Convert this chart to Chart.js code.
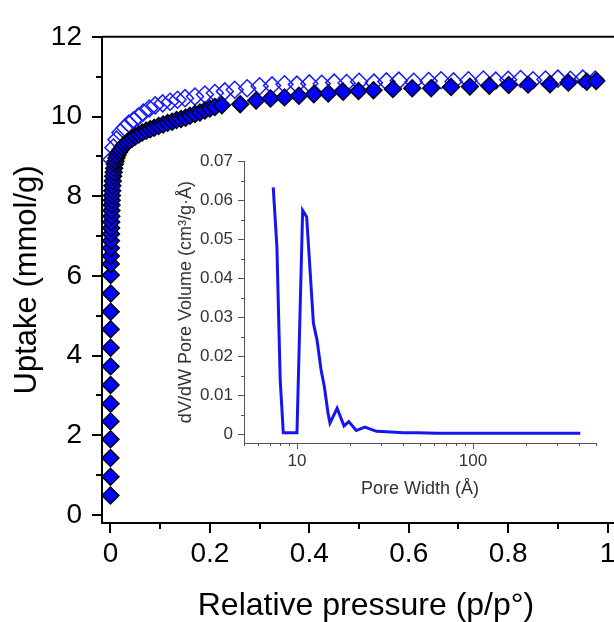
<!DOCTYPE html>
<html>
<head>
<meta charset="utf-8">
<script src="https://cdn.jsdelivr.net/npm/chart.js@4.4.1/dist/chart.umd.min.js"></script>
<style>
  html, body { margin: 0; padding: 0; background: #fff; overflow: hidden; }
  #wrap { position: relative; width: 614px; height: 622px; overflow: hidden; }
  #main { position: absolute; left: 0; top: 0; }
  #inset { position: absolute; left: 170px; top: 140px; }
</style>
</head>
<body>
<div id="wrap">
  <canvas id="main" width="640" height="622"></canvas>
  <canvas id="inset" width="444" height="365"></canvas>
</div>
<script>
// adsorption branch (filled diamonds)
const adsP = [0.00002, 0.00004, 0.00006, 0.00009, 0.00012, 0.00016, 0.0002, 0.00025, 0.0003, 0.00036, 0.00043, 0.0005, 0.0006,
  0.0007, 0.0008, 0.0009, 0.001, 0.0012, 0.0014, 0.0016, 0.0018, 0.002, 0.0023, 0.0026, 0.003, 0.0035, 0.004, 0.0047, 0.0055,
  0.0064, 0.0075, 0.0088, 0.0102, 0.012, 0.014, 0.017, 0.02, 0.024, 0.028, 0.033, 0.038, 0.044, 0.05, 0.057, 0.064, 0.072,
  0.08, 0.088, 0.097, 0.106, 0.115, 0.124, 0.133, 0.142, 0.151, 0.16, 0.17, 0.18, 0.19, 0.2, 0.21, 0.224,
  0.261, 0.293, 0.322, 0.350, 0.379, 0.409, 0.438, 0.468, 0.499, 0.529, 0.568, 0.607, 0.645, 0.685, 0.723, 0.762, 0.801,
  0.840, 0.884, 0.921, 0.958, 0.977];
const adsQ = [0.49, 0.96, 1.43, 1.90, 2.35, 2.79, 3.26, 3.73, 4.20, 4.66, 5.10, 5.56, 6.02,
  6.3, 6.5, 6.7, 6.88, 7.05, 7.2, 7.35, 7.5, 7.64, 7.78, 7.9, 8.02, 8.14, 8.26, 8.38, 8.5,
  8.6, 8.7, 8.8, 8.88, 8.96, 9.03, 9.1, 9.16, 9.23, 9.29, 9.35, 9.4, 9.45, 9.5, 9.55, 9.6, 9.64,
  9.68, 9.72, 9.76, 9.8, 9.84, 9.87, 9.91, 9.94, 9.97, 10.02, 10.06, 10.1, 10.15, 10.2, 10.24, 10.28,
  10.31, 10.40, 10.45, 10.48, 10.52, 10.56, 10.58, 10.62, 10.64, 10.66, 10.69, 10.71, 10.71, 10.74, 10.75, 10.77, 10.79,
  10.80, 10.81, 10.85, 10.87, 10.89];

// desorption branch (open diamonds)
const desP = [0.975, 0.95, 0.925, 0.90, 0.875, 0.85, 0.825, 0.80, 0.775, 0.75, 0.72, 0.69, 0.665, 0.64, 0.61, 0.58,
  0.555, 0.53, 0.50, 0.475, 0.45, 0.425, 0.40, 0.375, 0.35, 0.325, 0.30, 0.275, 0.25, 0.23, 0.21, 0.19, 0.17, 0.15,
  0.135, 0.12, 0.105, 0.09, 0.078, 0.066, 0.056, 0.046, 0.037, 0.029, 0.02, 0.012, 0.006, 0.002];
const desQ = [10.93, 10.95, 10.92, 10.95, 10.93, 10.91, 10.94, 10.92, 10.90, 10.93, 10.91, 10.88, 10.91, 10.89, 10.87, 10.9,
  10.88, 10.85, 10.87, 10.84, 10.85, 10.82, 10.83, 10.80, 10.81, 10.78, 10.76, 10.71, 10.67, 10.63, 10.59, 10.55, 10.5, 10.46,
  10.42, 10.37, 10.33, 10.28, 10.2, 10.1, 10.0, 9.9, 9.82, 9.72, 9.6, 9.42, 9.22, 8.92];

// inset: pore size distribution
const poreWidth = [7.33, 7.69, 8.03, 8.36, 10.0, 10.77, 11.35, 12.4, 13.0, 13.7, 14.3, 15.0, 15.4, 16.9, 18.5, 19.7,
  21.7, 24.3, 28.3, 32.3, 40.2, 47.9, 62.3, 149.6, 407];
const poreVol = [0.0633, 0.048, 0.0139, 0.0003, 0.0003, 0.0574, 0.0557, 0.0284, 0.0241, 0.0165, 0.0122, 0.0054, 0.0028,
  0.0066, 0.0021, 0.0032, 0.0009, 0.0018, 0.0007, 0.0006, 0.0003, 0.0003, 0.0002, 0.0002, 0.0002];

const xTicks = [0, 0.2, 0.4, 0.6, 0.8, 1];
const xMinor = [0.1, 0.3, 0.5, 0.7, 0.9];
const yTicks = [0, 2, 4, 6, 8, 10, 12];
const yMinor = [1, 3, 5, 7, 9, 11];
const insetXTicks = [10, 100];
const insetXMinor = [5, 6, 7, 8, 9, 20, 30, 40, 50, 60, 70, 80, 90, 200, 300, 400, 500];
const insetYTicks = [0, 0.01, 0.02, 0.03, 0.04, 0.05, 0.06, 0.07];
const insetYMinor = [0.005, 0.015, 0.025, 0.035, 0.045, 0.055, 0.065];

const FONT = "'Liberation Sans', Arial, sans-serif";

// draws outward tick marks (major + minor) and optional top frame line
const tickMarks = {
  id: 'tickMarks',
  afterDraw(chart, args, opts) {
    const { ctx, chartArea } = chart;
    ctx.save();
    ctx.strokeStyle = opts.color;
    ctx.lineWidth = opts.width;
    ctx.beginPath();
    opts.marks.forEach(m => {
      const scale = chart.scales[m.axis];
      m.values.forEach(v => {
        if (scale.isHorizontal()) {
          const x = Math.round(scale.getPixelForValue(v)) + opts.shift;
          ctx.moveTo(x, chartArea.bottom);
          ctx.lineTo(x, chartArea.bottom + m.len);
        } else {
          const y = Math.round(scale.getPixelForValue(v)) + opts.shift;
          ctx.moveTo(chartArea.left, y);
          ctx.lineTo(chartArea.left - m.len, y);
        }
      });
    });
    if (opts.frameTop) {
      ctx.moveTo(chartArea.left, chartArea.top);
      ctx.lineTo(chartArea.right, chartArea.top);
    }
    ctx.stroke();
    ctx.restore();
  }
};

const fmt = v => String(+v.toFixed(3));

new Chart(document.getElementById('main').getContext('2d'), {
  type: 'scatter',
  data: {
    datasets: [{
      label: 'Adsorption',
      data: adsP.map((p, i) => ({ x: p, y: adsQ[i] })),
      pointStyle: 'rectRot',
      pointRadius: 8.5,
      backgroundColor: '#0000ff',
      borderColor: '#000000',
      borderWidth: 1.4,
      order: 0
    }, {
      label: 'Desorption',
      data: desP.map((p, i) => ({ x: p, y: desQ[i] })),
      pointStyle: 'rectRot',
      pointRadius: 8.5,
      backgroundColor: 'rgba(0,0,0,0)',
      borderColor: '#1a1aff',
      borderWidth: 1.5,
      order: 1
    }]
  },
  options: {
    responsive: false,
    animation: false,
    events: [],
    layout: { padding: { top: 30, right: 10, left: 0, bottom: 0 } },
    plugins: {
      legend: { display: false },
      tooltip: { enabled: false },
      tickMarks: {
        color: '#000', width: 2, shift: 0, frameTop: true,
        marks: [
          { axis: 'x', values: xTicks, len: 10 },
          { axis: 'x', values: xMinor, len: 6 },
          { axis: 'y', values: yTicks, len: 10 },
          { axis: 'y', values: yMinor, len: 6 }
        ]
      }
    },
    scales: {
      x: {
        type: 'linear',
        min: -0.017,
        max: 1.045,
        afterBuildTicks: s => { s.ticks = xTicks.map(v => ({ value: v })); },
        afterFit: s => { s.height = 99; },
        grid: { display: false, drawTicks: false },
        border: { display: true, color: '#000', width: 2 },
        ticks: { color: '#000', font: { family: FONT, size: 28 }, padding: 14, maxRotation: 0, callback: fmt },
        title: { display: true, text: 'Relative pressure (p/p°)', color: '#000',
          font: { family: FONT, size: 32, lineHeight: 1 }, padding: { top: 0, bottom: 0 } }
      },
      y: {
        type: 'linear',
        min: -0.2,
        max: 12,
        afterBuildTicks: s => { s.ticks = yTicks.map(v => ({ value: v })); },
        afterFit: s => { s.width = 102; },
        grid: { display: false, drawTicks: false },
        border: { display: true, color: '#000', width: 2 },
        ticks: { color: '#000', font: { family: FONT, size: 28 }, padding: 20, callback: fmt },
        title: { display: true, text: 'Uptake (mmol/g)', color: '#000',
          font: { family: FONT, size: 31, lineHeight: 1 }, padding: { top: 12, bottom: 0 } }
      }
    }
  },
  plugins: [tickMarks]
});

new Chart(document.getElementById('inset').getContext('2d'), {
  type: 'line',
  data: {
    datasets: [{
      label: 'PSD',
      data: poreWidth.map((w, i) => ({ x: w, y: poreVol[i] })),
      borderColor: '#1515f0',
      borderWidth: 3,
      pointRadius: 0,
      tension: 0,
      fill: false
    }]
  },
  options: {
    responsive: false,
    animation: false,
    events: [],
    layout: { padding: { top: 21, right: 18, left: 0, bottom: 0 } },
    plugins: {
      legend: { display: false },
      tooltip: { enabled: false },
      tickMarks: {
        color: '#555', width: 1, shift: 0.5, frameTop: false,
        marks: [
          { axis: 'x', values: insetXTicks, len: 6 },
          { axis: 'x', values: insetXMinor, len: 3 },
          { axis: 'y', values: insetYTicks, len: 6 },
          { axis: 'y', values: insetYMinor, len: 3 }
        ]
      }
    },
    scales: {
      x: {
        type: 'logarithmic',
        min: 5,
        max: 500,
        afterBuildTicks: s => { s.ticks = insetXTicks.map(v => ({ value: v })); },
        afterFit: s => { s.height = 62; },
        grid: { display: false, drawTicks: false },
        border: { display: true, color: '#555', width: 1 },
        ticks: { color: '#333', font: { family: FONT, size: 17 }, padding: 8, maxRotation: 0, callback: fmt },
        title: { display: true, text: 'Pore Width (Å)', color: '#333',
          font: { family: FONT, size: 18, lineHeight: 1 }, padding: { top: 0, bottom: 7 } }
      },
      y: {
        type: 'linear',
        min: -0.0023,
        max: 0.07,
        afterBuildTicks: s => { s.ticks = insetYTicks.map(v => ({ value: v })); },
        afterFit: s => { s.width = 74; },
        grid: { display: false, drawTicks: false },
        border: { display: true, color: '#555', width: 1 },
        ticks: { color: '#333', font: { family: FONT, size: 17 }, padding: 11, callback: fmt },
        title: { display: true, text: 'dV/dW Pore Volume (cm³/g·Å)', color: '#333',
          font: { family: FONT, size: 18, lineHeight: 1 }, padding: { top: 7, bottom: 0 } }
      }
    }
  },
  plugins: [tickMarks]
});
</script>
</body>
</html>
